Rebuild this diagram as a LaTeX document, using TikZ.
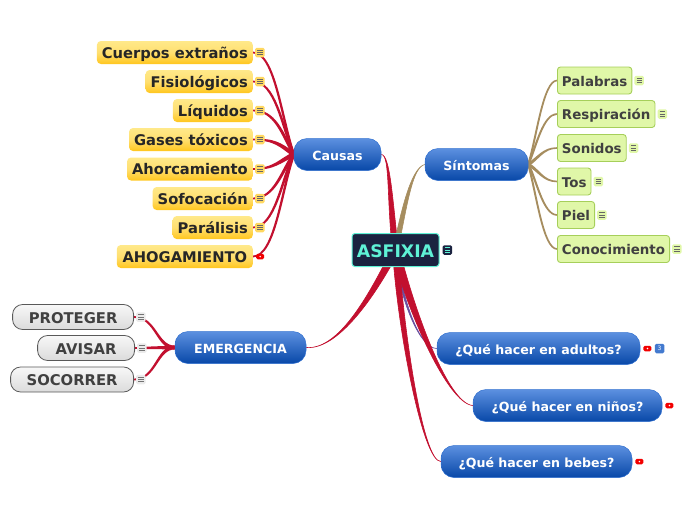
\documentclass[tikz,border=0pt]{standalone}
\usepackage{fontspec}
\setmainfont{DejaVu Sans}
\usepackage{xcolor}
\usetikzlibrary{positioning, backgrounds, calc}

\definecolor{linkred}{HTML}{C2102F}
\definecolor{linktan}{HTML}{A68D5F}
\definecolor{linkpurple}{HTML}{6A4FA0}
\definecolor{inkdark}{HTML}{262626}
\definecolor{rootfill}{HTML}{1B2340}
\definecolor{rootmint}{HTML}{5FF2D6}
\definecolor{yellowtop}{HTML}{FFE98A}
\definecolor{yellowmid}{HTML}{FFDF70}
\definecolor{yellowlow}{HTML}{FFC61E}
\definecolor{bluetop}{HTML}{5C90E0}
\definecolor{bluemid}{HTML}{2E6AC8}
\definecolor{bluelow}{HTML}{0848A8}
\definecolor{blueedge}{HTML}{2F6FD0}
\definecolor{greenfill}{HTML}{E0F7A8}
\definecolor{greenedge}{HTML}{A6CF5A}
\definecolor{noteyellow}{HTML}{FFD860}

% thin end, thick end, bend at thin end, bend at thick end, half width, colour; optional line width
\newcommand{\taper}[7][0.6pt]{%
  \begin{scope}[on background layer]
    \fill[#7, draw=#7, line width=#1] (#2) .. controls +#4 and +#5 .. ($(#3)+#6$)
      -- ($(#3)-#6$) .. controls +#5 and +#4 .. (#2) -- cycle;
  \end{scope}}

\begin{document}
\begin{tikzpicture}[
    x=1pt, y=-1pt,
    node distance=2pt,
    yellowbox/.style={rectangle, rounded corners=4pt, draw=none, top color=yellowtop, bottom color=yellowlow, middle color=yellowmid, minimum height=23pt, inner xsep=5pt, inner ysep=0pt, text height=11pt, text depth=0pt, font=\fontsize{14.7}{16}\selectfont\bfseries, text=inkdark, anchor=east},
    greenbox/.style={rectangle, rounded corners=3pt, draw=greenedge, line width=0.9pt, fill=greenfill, minimum height=27pt, inner xsep=4.5pt, inner ysep=0pt, text height=11pt, text depth=0pt, font=\fontsize{13.4}{16}\selectfont\bfseries, text=black!75, anchor=west},
    graybox/.style={rectangle, rounded corners=10pt, draw=black!65, line width=0.8pt, top color=white!97!black, bottom color=black!14, minimum height=25pt, text height=12pt, text depth=0pt, font=\fontsize{14.8}{16}\selectfont\bfseries, text=black!75, anchor=east},
    bluebox/.style={rectangle, rounded corners=13pt, draw=blueedge, line width=0.5pt, top color=bluetop, middle color=bluemid, bottom color=bluelow, minimum height=32pt, text height=11pt, text depth=0pt, font=\fontsize{12.6}{15}\selectfont\bfseries, text=white},
    rootbox/.style={rectangle, rounded corners=3pt, draw=rootmint, line width=1pt, fill=rootfill, text=rootmint, minimum width=87pt, minimum height=33pt, text height=14pt, text depth=0pt, font=\fontsize{17.3}{18}\selectfont\bfseries},
    noteicon/.style={rectangle, rounded corners=1.5pt, minimum width=9.5pt, minimum height=9.5pt, inner sep=0pt, path picture={
        \draw[#1, line width=0.7pt] ([xshift=-2.7pt,yshift=2.2pt]path picture bounding box.center) -- ++(5.4pt,0);
        \draw[#1, line width=0.7pt] ([xshift=-2.7pt]path picture bounding box.center) -- ++(5.4pt,0);
        \draw[#1, line width=0.7pt] ([xshift=-2.7pt,yshift=-2.2pt]path picture bounding box.center) -- ++(5.4pt,0);}},
    videoicon/.style={rectangle, rounded corners=1.5pt, fill=red!95!black, minimum width=8pt, minimum height=5.5pt, inner sep=0pt, path picture={
        \fill[white] (path picture bounding box.center) circle (0.8pt);}}
]
\useasboundingbox (0,0) rectangle (696,520);

% Root
\node[rootbox] (asfixia) at (395.5,250) {ASFIXIA};
\node[noteicon=rootmint, fill=rootfill] (asfixianote) [right=3pt of asfixia] {};

% Main branches
\node[bluebox, minimum width=87pt] (causas) at (337.5,154.5) {Causas};
\node[bluebox, minimum width=103pt] (sintomas) at (476.5,164.5) {Síntomas};
\node[bluebox, minimum width=131pt] (emergencia) at (240.5,347.5) {EMERGENCIA};
\node[bluebox, minimum width=203pt] (adultos) at (538.5,348.5) {¿Qué hacer en adultos?};
\node[bluebox, minimum width=189pt] (ninos) at (567.5,405.5) {¿Qué hacer en niños?};
\node[bluebox, minimum width=191pt] (bebes) at (536.5,461.5) {¿Qué hacer en bebes?};

% Causas column
\node[yellowbox] (cuerpos) at (253,52.5) {Cuerpos extraños};
\node[yellowbox] (fisio) at (253,81.5) {Fisiológicos};
\node[yellowbox] (liquidos) at (253,110.5) {Líquidos};
\node[yellowbox] (gases) at (253,139.5) {Gases tóxicos};
\node[yellowbox] (ahorca) at (253,169) {Ahorcamiento};
\node[yellowbox] (sofoca) at (253,198.5) {Sofocación};
\node[yellowbox] (paralisis) at (253,227.5) {Parálisis};
\node[yellowbox, minimum width=136pt] (ahoga) at (253,256.5) {AHOGAMIENTO};

% Sintomas column
\node[greenbox] (palabras) at (557,80.5) {Palabras};
\node[greenbox] (respira) at (557,114) {Respiración};
\node[greenbox] (sonidos) at (557,148) {Sonidos};
\node[greenbox] (tos) at (557,181.5) {Tos};
\node[greenbox] (piel) at (557,215) {Piel};
\node[greenbox] (conoce) at (557,249) {Conocimiento};

% Emergencia column
\node[graybox, minimum width=121pt] (proteger) at (134,317) {PROTEGER};
\node[graybox, minimum width=97pt] (avisar) at (135,348) {AVISAR};
\node[graybox, minimum width=123pt] (socorrer) at (134,379.5) {SOCORRER};

% Icons
\node[noteicon=black!60, fill=noteyellow] (cuerposnote) [right=of cuerpos] {};
\node[noteicon=black!60, fill=noteyellow] (fisionote) [right=of fisio] {};
\node[noteicon=black!60, fill=noteyellow] (liquidosnote) [right=of liquidos] {};
\node[noteicon=black!60, fill=noteyellow] (gasesnote) [right=of gases] {};
\node[noteicon=black!60, fill=noteyellow] (ahorcanote) [right=of ahorca] {};
\node[noteicon=black!60, fill=noteyellow] (sofocanote) [right=of sofoca] {};
\node[noteicon=black!60, fill=noteyellow] (paralisisnote) [right=of paralisis] {};
\node[videoicon] (ahogavideo) [right=3pt of ahoga] {};
\node[noteicon=black!60, fill=greenfill] (palabrasnote) [right=of palabras] {};
\node[noteicon=black!60, fill=greenfill] (respiranote) [right=of respira] {};
\node[noteicon=black!60, fill=greenfill] (sonidosnote) [right=of sonidos] {};
\node[noteicon=black!60, fill=greenfill] (tosnote) [right=of tos] {};
\node[noteicon=black!60, fill=greenfill] (pielnote) [right=of piel] {};
\node[noteicon=black!60, fill=greenfill] (conocenote) [right=of conoce] {};
\node[noteicon=black!55, fill=black!8] (protegernote) [right=of proteger] {};
\node[noteicon=black!55, fill=black!8] (avisarnote) [right=of avisar] {};
\node[noteicon=black!55, fill=black!8] (socorrernote) [right=of socorrer] {};
\node[videoicon] (adultosvideo) [right=3pt of adultos] {};
\node[rectangle, rounded corners=1.5pt, fill=bluetop!70!bluelow, text=white, minimum size=9.5pt, inner sep=0pt, font=\fontsize{6}{6}\selectfont] (adultosnum) [right=3pt of adultosvideo] {3};
\node[videoicon] (ninosvideo) [right=3pt of ninos] {};
\node[videoicon] (bebesvideo) [right=3pt of bebes] {};

% Links to the root
\taper{causas.east}{asfixia.center}{(9,0)}{(-6,-50)}{(3,0)}{linkred}
\taper{sintomas.west}{asfixia.center}{(-12,3)}{(10,-50)}{(2.5,0)}{linktan}
\taper{emergencia.east}{asfixia.center}{(35,3)}{(-18,35)}{(4,0)}{linkred}
\taper{adultos.west}{asfixia.center}{(-18,0)}{(4,45)}{(1.2,0)}{linkpurple}
\taper{ninos.west}{asfixia.center}{(-25,-2)}{(15,60)}{(4,0)}{linkred}
\taper{bebes.west}{asfixia.center}{(-18,0)}{(5,80)}{(3,0)}{linkred}

% Links of Causas
\taper[1.8pt]{cuerpos.east}{causas.west}{(22,0)}{(-12,-35)}{(0,1.5)}{linkred}
\taper[1.8pt]{fisio.east}{causas.west}{(22,0)}{(-12,-30)}{(0,1.5)}{linkred}
\taper[1.8pt]{liquidos.east}{causas.west}{(22,0)}{(-12,-22)}{(0,1.5)}{linkred}
\taper[1.8pt]{gases.east}{causas.west}{(22,0)}{(-14,-10)}{(0,1.5)}{linkred}
\taper[1.8pt]{ahorca.east}{causas.west}{(22,0)}{(-14,6)}{(0,1.5)}{linkred}
\taper[1.8pt]{sofoca.east}{causas.west}{(22,0)}{(-12,16)}{(0,1.5)}{linkred}
\taper[1.8pt]{paralisis.east}{causas.west}{(22,0)}{(-12,25)}{(0,1.5)}{linkred}
\taper[1.8pt]{ahoga.east}{causas.west}{(22,0)}{(-12,35)}{(0,1.5)}{linkred}

% Links of Sintomas
\taper[1.6pt]{palabras.west}{sintomas.east}{(-14,0)}{(8,-25)}{(0,1)}{linktan}
\taper[1.6pt]{respira.west}{sintomas.east}{(-14,0)}{(8,-18)}{(0,1)}{linktan}
\taper[1.6pt]{sonidos.west}{sintomas.east}{(-14,0)}{(10,-6)}{(0,1)}{linktan}
\taper[1.6pt]{tos.west}{sintomas.east}{(-14,0)}{(10,5)}{(0,1)}{linktan}
\taper[1.6pt]{piel.west}{sintomas.east}{(-14,0)}{(8,14)}{(0,1)}{linktan}
\taper[1.6pt]{conoce.west}{sintomas.east}{(-14,0)}{(8,28)}{(0,1)}{linktan}

% Links of Emergencia
\taper[1.8pt]{proteger.east}{emergencia.west}{(22,0)}{(-18,0)}{(0,1)}{linkred}
\taper[1.8pt]{avisar.east}{emergencia.west}{(20,0)}{(-20,0)}{(0,1)}{linkred}
\taper[1.8pt]{socorrer.east}{emergencia.west}{(22,0)}{(-18,0)}{(0,1)}{linkred}

\end{tikzpicture}
\end{document}
